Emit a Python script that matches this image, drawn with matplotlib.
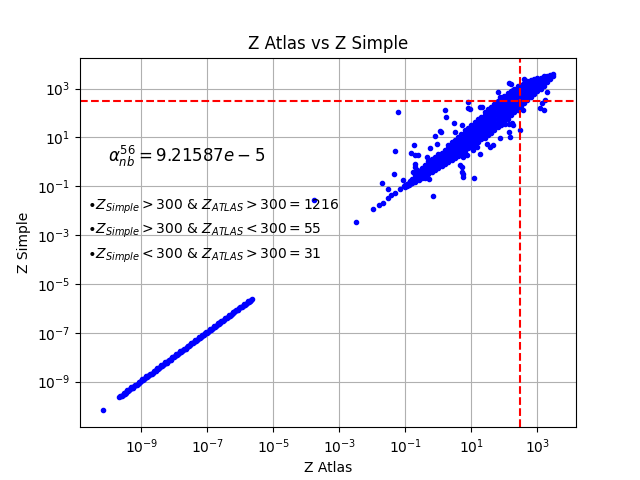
import numpy as np
import matplotlib
matplotlib.use("Agg")
import matplotlib.pyplot as plt

# values, stored as log10(Z)
# lower branch: Z Simple ~ Z Atlas for very small values
low_log_x = [-10.18, -9.67, -9.62, -9.57, -9.51, -9.46, -9.40, -9.34, -9.29, -9.23,
             -9.18, -9.11, -9.06, -9.00, -8.94, -8.89, -8.83, -8.77, -8.72, -8.66,
             -8.60, -8.55, -8.49, -8.43, -8.38, -8.31, -8.26, -8.20, -8.14, -8.09,
             -8.03, -7.97, -7.92, -7.86, -7.80, -7.75, -7.69, -7.63, -7.58, -7.52,
             -7.46, -7.41, -7.35, -7.29, -7.23, -7.18, -7.12, -7.06, -7.01, -6.95,
             -6.89, -6.83, -6.78, -6.72, -6.66, -6.61, -6.55, -6.49, -6.43, -6.38,
             -6.32, -6.26, -6.21, -6.15, -6.09, -6.03, -5.98, -5.92, -5.86, -5.81,
             -5.75, -5.70, -5.64]
low_log_y = [-10.18, -9.63, -9.60, -9.53, -9.49, -9.42, -9.38, -9.30, -9.27, -9.20,
             -9.16, -9.08, -9.04, -8.97, -8.92, -8.86, -8.81, -8.74, -8.70, -8.63,
             -8.58, -8.52, -8.47, -8.40, -8.36, -8.29, -8.24, -8.17, -8.12, -8.06,
             -8.01, -7.94, -7.90, -7.83, -7.78, -7.72, -7.67, -7.60, -7.56, -7.49,
             -7.44, -7.38, -7.33, -7.26, -7.21, -7.15, -7.10, -7.03, -6.99, -6.92,
             -6.87, -6.80, -6.76, -6.69, -6.64, -6.58, -6.53, -6.46, -6.41, -6.35,
             -6.30, -6.23, -6.19, -6.12, -6.07, -6.00, -5.96, -5.89, -5.85, -5.79,
             -5.74, -5.68, -5.63]
# second run of points sitting between the first ones (the band is a bit thicker than one dot)
low2_log_x = [-9.64, -9.59, -9.54, -9.48, -9.43, -9.37, -9.31, -9.26, -9.20, -9.14,
              -9.08, -9.03, -8.97, -8.91, -8.86, -8.80, -8.74, -8.69, -8.63, -8.57,
              -8.52, -8.46, -8.40, -8.35, -8.28, -8.23, -8.17, -8.11, -8.06, -8.00,
              -7.94, -7.89, -7.83, -7.77, -7.72, -7.66, -7.60, -7.55, -7.49, -7.43,
              -7.38, -7.32, -7.26, -7.20, -7.15, -7.09, -7.03, -6.98, -6.92, -6.86,
              -6.80, -6.75, -6.69, -6.63, -6.58, -6.52, -6.46, -6.40, -6.35, -6.29,
              -6.23, -6.18, -6.12, -6.06, -6.00, -5.95, -5.89, -5.83, -5.78, -5.72,
              -5.67]
low2_log_y = [-9.57, -9.58, -9.47, -9.47, -9.36, -9.36, -9.24, -9.25, -9.13, -9.13,
              -9.01, -9.02, -8.90, -8.90, -8.79, -8.79, -8.67, -8.68, -8.56, -8.56,
              -8.45, -8.45, -8.33, -8.34, -8.21, -8.22, -8.10, -8.10, -7.99, -7.99,
              -7.87, -7.88, -7.76, -7.76, -7.65, -7.65, -7.53, -7.54, -7.42, -7.42,
              -7.31, -7.31, -7.19, -7.19, -7.08, -7.08, -6.96, -6.97, -6.85, -6.85,
              -6.73, -6.74, -6.62, -6.62, -6.51, -6.51, -6.39, -6.40, -6.28, -6.28,
              -6.16, -6.17, -6.05, -6.05, -5.94, -5.94, -5.83, -5.82, -5.72, -5.71,
              -5.64]

# dense part of the upper cloud, per Z Atlas column (log10) -> Z Simple values (log10)
core_cols = {
    -1.00: [-1.02, -0.96],
    -0.95: [-0.97, -0.90],
    -0.90: [-0.95, -0.86],
    -0.85: [-0.90, -0.80],
    -0.80: [-0.86, -0.75, -0.69],
    -0.70: [-0.81, -0.67, -0.56],
    -0.60: [-0.74, -0.61, -0.47, -0.38],
    -0.50: [-0.66, -0.52, -0.41, -0.27],
    -0.40: [-0.58, -0.45, -0.33, -0.21, -0.12],
    -0.30: [-0.50, -0.37, -0.24, -0.10, 0.02],
    -0.20: [-0.42, -0.30, -0.16, -0.03, 0.12],
    -0.10: [-0.33, -0.20, -0.07, 0.06, 0.20],
    0.00: [-0.25, -0.12, 0.02, 0.15, 0.30],
    0.10: [-0.18, -0.04, 0.10, 0.24, 0.38],
    0.20: [-0.08, 0.05, 0.19, 0.33, 0.48],
    0.30: [-0.02, 0.12, 0.27, 0.41, 0.55, 0.70],
    0.40: [0.07, 0.21, 0.36, 0.50, 0.64, 0.80],
    0.50: [0.17, 0.31, 0.45, 0.60, 0.74, 0.90],
    0.60: [0.25, 0.39, 0.54, 0.68, 0.82, 1.02],
    0.70: [0.36, 0.49, 0.64, 0.78, 0.93, 1.12],
    0.80: [0.44, 0.58, 0.73, 0.87, 1.01, 1.16, 1.30],
    0.90: [0.55, 0.68, 0.83, 0.97, 1.12, 1.27, 1.40],
    1.00: [0.62, 0.76, 0.92, 1.05, 1.20, 1.35, 1.52],
    1.10: [0.70, 0.85, 1.00, 1.15, 1.28, 1.44, 1.62],
    1.20: [0.82, 0.95, 1.10, 1.25, 1.39, 1.55, 1.74],
    1.30: [0.92, 1.05, 1.20, 1.36, 1.50, 1.66, 1.85],
    1.40: [0.98, 1.13, 1.28, 1.44, 1.60, 1.75, 1.90, 2.05],
    1.50: [1.08, 1.22, 1.38, 1.54, 1.70, 1.84, 2.00, 2.16],
    1.60: [1.20, 1.34, 1.48, 1.64, 1.79, 1.94, 2.10, 2.26],
    1.70: [1.30, 1.45, 1.60, 1.75, 1.90, 2.05, 2.20, 2.38],
    1.80: [1.42, 1.56, 1.70, 1.86, 2.00, 2.16, 2.32, 2.48],
    1.90: [1.52, 1.66, 1.82, 1.97, 2.12, 2.27, 2.42, 2.58],
    2.00: [1.64, 1.78, 1.93, 2.08, 2.22, 2.38, 2.53, 2.70],
    2.10: [1.77, 1.90, 2.05, 2.20, 2.34, 2.50, 2.66, 2.80],
    2.20: [1.90, 2.04, 2.18, 2.32, 2.46, 2.62, 2.78, 2.90],
    2.30: [2.02, 2.16, 2.30, 2.45, 2.60, 2.74, 2.88, 3.00],
    2.40: [2.14, 2.28, 2.42, 2.56, 2.70, 2.84, 2.98, 3.10],
    2.50: [2.28, 2.42, 2.56, 2.70, 2.84, 2.98, 3.14],
    2.60: [2.40, 2.55, 2.68, 2.82, 2.96, 3.10, 3.22],
    2.70: [2.52, 2.66, 2.80, 2.94, 3.08, 3.22, 3.30],
    2.80: [2.64, 2.78, 2.92, 3.06, 3.20, 3.34],
    2.90: [2.76, 2.90, 3.04, 3.18, 3.32, 3.40],
    3.00: [2.88, 3.02, 3.16, 3.30, 3.44],
    3.10: [3.00, 3.14, 3.28, 3.44],
    3.20: [3.12, 3.26, 3.40, 3.50],
    3.30: [3.25, 3.38, 3.52],
    3.40: [3.38, 3.50, 3.56],
    3.49: [3.52, 3.58],
}

# scattered points around the cloud (log10 Z Atlas, log10 Z Simple)
scatter_pts = [
    (-3.78, -1.57), (-2.51, -2.48), (-1.98, -1.95), (-1.80, -1.78), (-1.69, -1.68),
    (-1.54, -1.50), (-1.42, -1.36), (-1.30, -1.27), (-1.17, -1.13), (-1.05, -1.00),
    (-1.22, 2.02), (-0.16, -1.41), (-1.71, -0.86), (-1.52, -1.12), (-1.34, -0.48),
    (-1.30, 0.45), (-1.07, -0.75), (-0.74, 0.68), (-0.84, 0.37), (-0.71, 0.27),
    (-0.61, 0.27), (-0.71, -0.20), (-0.71, -0.07), (-0.66, -0.34), (-0.76, -0.41),
    (-0.56, -0.55), (-0.41, -0.68), (-0.28, -0.72), (-0.33, 0.21), (-0.26, 0.55),
    (-0.05, 0.75), (-0.10, 1.05), (0.05, 1.27), (0.07, 1.23), (0.20, 2.12),
    (0.22, 1.84), (0.47, 1.61), (0.71, 1.50), (0.50, 1.23), (0.91, 2.19),
    (0.91, 2.46), (1.32, 2.25), (1.26, 2.25), (0.96, 2.15), (1.06, 0.48),
    (1.11, 0.68), (0.81, 0.34), (0.76, 0.21), (0.71, -0.20), (0.74, -0.48),
    (0.76, -0.64), (1.08, -0.67), (0.66, -0.14), (0.71, -0.41), (1.47, 0.75),
    (1.67, 0.68), (1.57, 0.61), (1.16, 0.59), (1.26, 0.30), (1.87, 0.96),
    (2.13, 1.23), (2.18, 1.02), (2.15, 1.55), (2.02, 1.55), (2.22, 1.57),
    (1.82, 2.25), (1.87, 2.66), (1.82, 2.87), (2.13, 3.21), (2.20, 3.18),
    (2.60, 3.38), (2.48, 1.30), (2.58, 2.12), (3.09, 2.19), (3.19, 2.12),
    (3.13, 2.42), (3.29, 2.87), (3.24, 2.53), (0.86, 0.27), (0.66, 0.27),
    (2.27, 2.94), (2.27, 1.50),
]

threshold = 300
alpha_label = r'$\alpha_{nb}^{56} = 9.21587e-5$'
count_labels = [
    r'$\bullet Z_{Simple} > 300$ & $Z_{ATLAS} > 300 = 1216$',
    r'$\bullet Z_{Simple} > 300$ & $Z_{ATLAS} < 300 = 55$',
    r'$\bullet Z_{Simple} < 300$ & $Z_{ATLAS} > 300 = 31$',
]
count_label_y = [1.1e-2, 1.1e-3, 1.1e-4]

# build the full point set
log_x = list(low_log_x) + list(low2_log_x)
log_y = list(low_log_y) + list(low2_log_y)
for cx, ys in core_cols.items():
    for cy in ys:
        log_x.append(cx)
        log_y.append(cy)
for px, py in scatter_pts:
    log_x.append(px)
    log_y.append(py)

z_atlas = 10 ** np.array(log_x)
z_simple = 10 ** np.array(log_y)

plt.figure()
plt.plot(z_atlas, z_simple, '.', color='blue')
plt.xscale('log')
plt.yscale('log')
plt.axhline(threshold, color='red', linestyle='--')
plt.axvline(threshold, color='red', linestyle='--')

plt.text(1e-10, 1, alpha_label, fontsize=12)
for lab, ty in zip(count_labels, count_label_y):
    plt.text(2.2e-11, ty, lab, fontsize=10)

plt.title("Z Atlas vs Z Simple")
plt.xlabel("Z Atlas")
plt.ylabel("Z Simple")
plt.grid(True)
plt.savefig("out.png")
